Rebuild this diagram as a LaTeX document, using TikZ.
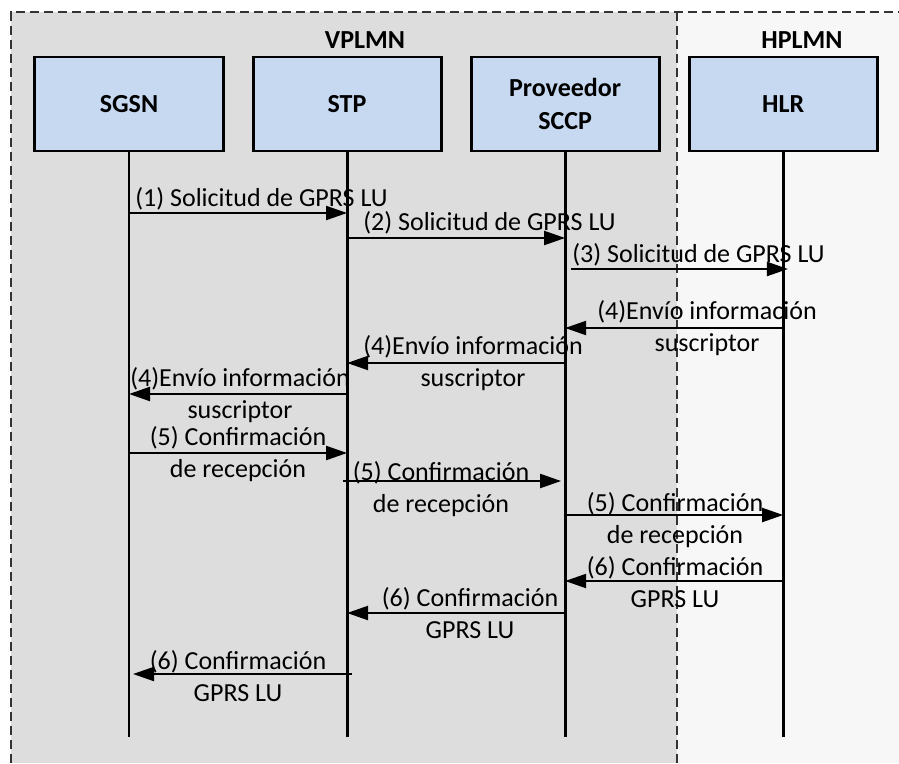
\documentclass[tikz,border=0pt]{standalone}
\usepackage{fontspec}
\setmainfont{Carlito}
\usepackage{tikz}
\usetikzlibrary{arrows.meta,positioning}

\definecolor{boxblue}{HTML}{C6D9F0}
\definecolor{vplmngray}{HTML}{DDDDDD}
\definecolor{hplmngray}{HTML}{F7F7F7}

\begin{document}
\begin{tikzpicture}[x=0.025cm, y=-0.025cm,
    entity/.style={draw=black, line width=2.1pt, fill=boxblue, minimum width=4.7cm,
        minimum height=2.35cm, outer sep=0pt, align=center,
        font=\fontsize{18.5}{23}\selectfont\bfseries},
    lifeline/.style={line width=2.1pt},
    msg/.style={line width=1.5pt, -{Triangle[length=0.525cm, width=0.35cm]}},
    lbl/.style={inner sep=0pt, align=center, font=\fontsize{18.5}{23}\selectfont},
    zone/.style={dash pattern=on 0.225cm off 0.125cm, line width=1pt, draw=black!80}]
            \useasboundingbox (0,0) rectangle (899,763);
            % zones
            \fill[vplmngray] (11,12) rectangle (677,763);
            \fill[hplmngray] (677,12) rectangle (899,763);
            \draw[zone] (11,763) -- (11,12) -- (899,12);
            \draw[zone] (677,12) -- (677,763);
            \node[lbl, font=\fontsize{18.5}{23}\selectfont\bfseries] (vplmn) at (365,40) {VPLMN};
            \node[lbl, font=\fontsize{18.5}{23}\selectfont\bfseries] (hplmn) at (802,40) {HPLMN};
            % entities
            \node[entity] (sgsn) at (129,104) {SGSN};
            \node[entity, right=0.75cm of sgsn] (stp) {STP};
            \node[entity, right=0.75cm of stp] (sccp) {Proveedor\\SCCP};
            \node[entity, right=0.75cm of sccp] (hlr) {HLR};
            \coordinate (bottom) at (0,737);
            \draw[lifeline] (sgsn.south) -- (sgsn |- bottom);
            \draw[lifeline] (stp.south) -- (stp |- bottom);
            \draw[lifeline] (sccp.south) -- (sccp |- bottom);
            \draw[lifeline] (hlr.south) -- (hlr |- bottom);
            % message levels
            \coordinate (m1) at (0,213);
            \coordinate (m2) at (0,238);
            \coordinate (m3) at (0,269);
            \coordinate (m4) at (0,328);
            \coordinate (m5) at (0,363);
            \coordinate (m6) at (0,394);
            \coordinate (m7) at (0,453);
            \coordinate (m8) at (0,481);
            \coordinate (m9) at (0,515);
            \coordinate (m10) at (0,581);
            \coordinate (m11) at (0,613);
            \coordinate (m12) at (0,674);
            % messages
            \draw[msg] (sgsn |- m1) -- (stp |- m1);
            \node[lbl, anchor=west] (l1) at (135,199) {(1) Solicitud de GPRS LU};
            \draw[msg] (stp |- m2) -- (sccp |- m2);
            \node[lbl, anchor=west] (l2) at (363,223) {(2) Solicitud de GPRS LU};
            \draw[msg] ([xshift=0.15cm]sccp |- m3) -- ([xshift=0.12cm]hlr |- m3);
            \node[lbl, anchor=west] (l3) at (572,255) {(3) Solicitud de GPRS LU};
            \draw[msg] (hlr |- m4) -- (sccp |- m4);
            \node[lbl] (l4) at (707,328) {(4)Envío información\\suscriptor};
            \draw[msg] (sccp |- m5) -- (stp |- m5);
            \node[lbl] (l5) at (473,363) {(4)Envío información\\suscriptor};
            \draw[msg] (stp |- m6) -- (sgsn |- m6);
            \node[lbl] (l6) at (240,395) {(4)Envío información\\suscriptor};
            \draw[msg] (sgsn |- m7) -- (stp |- m7);
            \node[lbl] (l7) at (238,454) {(5) Confirmación\\de recepción};
            \draw[msg] ([xshift=-0.1cm]stp |- m8) -- ([xshift=-0.1cm]sccp |- m8);
            \node[lbl] (l8) at (441,489) {(5) Confirmación\\de recepción};
            \draw[msg] (sccp |- m9) -- (hlr |- m9);
            \node[lbl] (l9) at (675,520) {(5) Confirmación\\de recepción};
            \draw[msg] (hlr |- m10) -- (sccp |- m10);
            \node[lbl] (l10) at (675,582) {(6) Confirmación\\GPRS LU};
            \draw[msg] (sccp |- m11) -- (stp |- m11);
            \node[lbl] (l11) at (470,613) {(6) Confirmación\\GPRS LU};
            \draw[msg] ([xshift=0.12cm]stp |- m12) -- ([xshift=0.1cm]sgsn |- m12);
            \node[lbl] (l12) at (238,676) {(6) Confirmación\\GPRS LU};
        \end{tikzpicture}
\end{document}
